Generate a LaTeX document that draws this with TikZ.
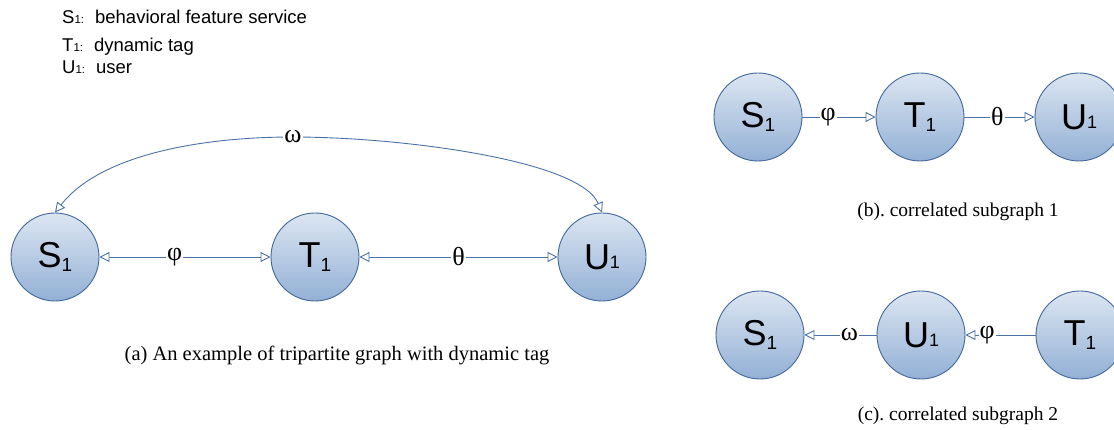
\documentclass[tikz,border=0pt]{standalone}
\usepackage{fontspec}
\setmainfont{Liberation Serif}
\newfontfamily\arialf{Liberation Sans}
\usetikzlibrary{arrows.meta}
\frenchspacing
\definecolor{edgeblue}{HTML}{4A72A8}
\definecolor{ringblue}{HTML}{41689E}
\definecolor{topfill}{HTML}{DCE6F2}
\definecolor{botfill}{HTML}{93B0D5}
\newcommand{\nsub}[1]{\raisebox{-4pt}{\fontsize{19}{19}\selectfont #1}}
\newcommand{\nsml}[1]{\raisebox{1pt}{\fontsize{18}{18}\selectfont #1}}
\newcommand{\lsub}[1]{{\fontsize{11.5}{11.5}\selectfont #1}}
\tikzset{tri/.tip={Triangle[length=10pt,width=10pt,fill=white]}}
\begin{document}
\begin{tikzpicture}[x=1pt,y=-1pt,
  vert/.style={circle, draw=ringblue, line width=0.9pt, top color=topfill, bottom color=botfill,
    minimum size=88pt, inner sep=0pt, font=\arialf\fontsize{36}{36}\selectfont},
  link/.style={draw=edgeblue, line width=0.9pt},
  lbl/.style={fill=white, inner sep=1pt, font=\fontsize{26}{26}\selectfont},
  capt/.style={inner sep=0pt, font=\fontsize{19.5}{20}\selectfont},
  legend/.style={anchor=base west, inner sep=0pt, font=\arialf\fontsize{18.5}{18.5}\selectfont}
]
\useasboundingbox (0,0) rectangle (1114,430);
\fill[white] (0,0) rectangle (1114,430);

% legend
\node[legend] (l1) at (62,24) {S\lsub{1:}\hspace{11pt}behavioral feature service};
\node[legend] (l2) at (62,52) {T\lsub{1:}\hspace{11pt}dynamic tag};
\node[legend] (l3) at (62,74) {U\lsub{1:}\hspace{11pt}user};

% (a)
\node[vert] (s1) at (55,257) {S\nsub{1}};
\node[vert] (t1) at (315,257) {T\nsub{1}};
\node[vert] (u1) at (602,257) {U\nsml{1}};
\coordinate (wtop) at (293,137);
\draw[link, tri-tri] (s1) -- node[lbl, pos=0.44] {φ} (t1);
\draw[link, tri-tri] (t1) -- node[lbl, pos=0.5] {θ} (u1);
\draw[link, tri-tri] (s1.north) .. controls (100,155) and (200,137) .. (wtop)
  .. controls (400,137) and (580,160) .. (u1.north);
\node[lbl] (wl) at (wtop) {ω};
\node[capt, font=\fontsize{20.5}{21}\selectfont] (capa) at (337,355) {(a) An example of tripartite graph with dynamic tag};

% (b)
\node[vert] (s1b) at (758,117) {S\nsub{1}};
\node[vert] (t1b) at (920,117) {T\nsub{1}};
\node[vert] (u1b) at (1079,117) {U\nsml{1}};
\draw[link, -tri] (s1b) -- node[lbl, pos=0.35] {φ} (t1b);
\draw[link, -tri] (t1b) -- node[lbl, pos=0.47] {θ} (u1b);
\node[capt] (capb) at (958,212) {(b). correlated subgraph 1};

% (c)
\node[vert] (s1c) at (760,335) {S\nsub{1}};
\node[vert] (u1c) at (921,335) {U\nsml{1}};
\node[vert] (t1c) at (1080,335) {T\nsub{1}};
\draw[link, -tri] (u1c) -- node[lbl, pos=0.375] {ω} (s1c);
\draw[link, -tri] (t1c) -- node[lbl, pos=0.69] {φ} (u1c);
\node[capt] (capc) at (958,416) {(c). correlated subgraph 2};
\end{tikzpicture}
\end{document}
